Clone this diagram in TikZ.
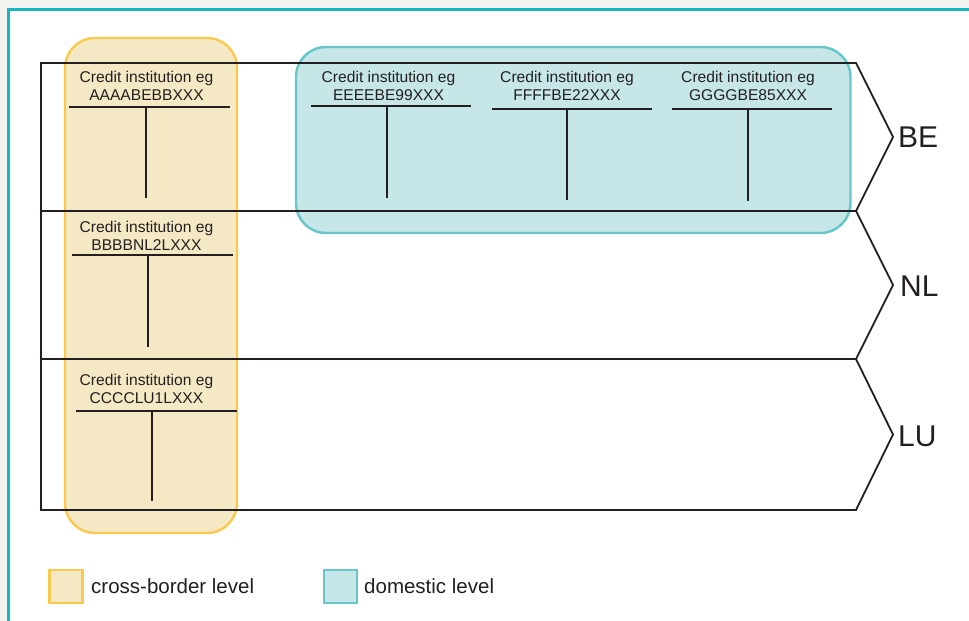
\documentclass[tikz,border=0pt]{standalone}
\usepackage{fontspec}
\setmainfont{Liberation Sans}
\definecolor{inkc}{HTML}{231F20}
\definecolor{pagebg}{HTML}{F2F2EE}
\definecolor{frameteal}{HTML}{16B5C1}
\definecolor{crossfill}{HTML}{F5E9C5}
\definecolor{crossedge}{HTML}{FBC94C}
\definecolor{domfill}{HTML}{C6E6E8}
\definecolor{domedge}{HTML}{66C6C9}

% T-account: name, text x, first baseline, code, rule y, rule left, rule right, stem x, stem bottom
\newcommand\taccount[9]{%
  \node[acctext, anchor=base] (#1t) at (#2,#3) {Credit institution eg};
  \node[acctext, anchor=base] (#1c) at (#2,#3+18) {#4};
  \coordinate (#1l) at (#6,#5);
  \coordinate (#1r) at (#7,#5);
  \coordinate (#1s) at (#8,#5);
  \coordinate (#1b) at (#8,#9);
  \draw[ink] (#1l) -- (#1r);
  \draw[ink] (#1s) -- (#1b);
}

\begin{document}
\begin{tikzpicture}[x=1pt,y=-1pt,
  ink/.style={draw=inkc, line width=2pt},
  band/.style={draw=inkc, line width=1.8pt, line join=miter},
  crossbox/.style={draw=crossedge, fill=crossfill, line width=2.4pt, rounded corners=30pt},
  dombox/.style={draw=domedge, fill=domfill, line width=2.4pt, rounded corners=30pt},
  acctext/.style={text=inkc, inner sep=0pt, font=\fontsize{15.6}{18}\selectfont},
  country/.style={text=inkc, inner sep=0pt, font=\fontsize{30}{36}\selectfont},
  keytext/.style={text=inkc, inner sep=0pt, font=\fontsize{20.5}{24}\selectfont},
  crosskey/.style={draw=crossedge, fill=crossfill, line width=2.4pt, minimum size=33pt, inner sep=0pt},
  domkey/.style={draw=domedge, fill=domfill, line width=2.4pt, minimum size=33pt, inner sep=0pt},
]
\useasboundingbox (0,0) rectangle (969,621);

% page and frame
\fill[pagebg] (0,0) rectangle (969,621);
\fill[white] (8.7,9.3) rectangle (969,621);
\draw[frameteal, line width=2.7pt] (8.7,621) -- (8.7,9.3) -- (969,9.3);

% grouping boxes
\draw[crossbox] (65,38) rectangle (237,533);
\draw[dombox] (296,47) rectangle (850.5,233);

% country bands
\draw[band] (41,63) -- (856,63) -- (893,137) -- (856,211) -- (41,211) -- cycle;
\draw[band] (41,211) -- (856,211) -- (893,285) -- (856,359) -- (41,359) -- cycle;
\draw[band] (41,359) -- (856,359) -- (893,434.5) -- (856,510) -- (41,510) -- cycle;

\node[country, anchor=base west] (be) at (898,147) {BE};
\node[country, anchor=base west] (nl) at (900,296) {NL};
\node[country, anchor=base west] (lu) at (898,446) {LU};

% accounts
\taccount{aaaa}{146.5}{82}{AAAABEBBXXX}{107}{69}{230}{146}{198}
\taccount{bbbb}{146.5}{232}{BBBBNL2LXXX}{255}{72}{233}{148}{347}
\taccount{cccc}{146.5}{385}{CCCCLU1LXXX}{411}{76}{237}{152}{501}
\taccount{eeee}{388.5}{82}{EEEEBE99XXX}{106}{311}{471}{387}{198}
\taccount{ffff}{567}{82}{FFFFBE22XXX}{109}{492}{652}{567}{200}
\taccount{gggg}{748}{82}{GGGGBE85XXX}{109}{672}{832}{748}{201}

% legend
\node[crosskey] (kcross) at (66,586.5) {};
\node[keytext, anchor=base west] (tcross) at (91,593) {cross-border level};
\node[domkey] (kdom) at (340.5,586.5) {};
\node[keytext, anchor=base west] (tdom) at (364,593) {domestic level};
\end{tikzpicture}
\end{document}
